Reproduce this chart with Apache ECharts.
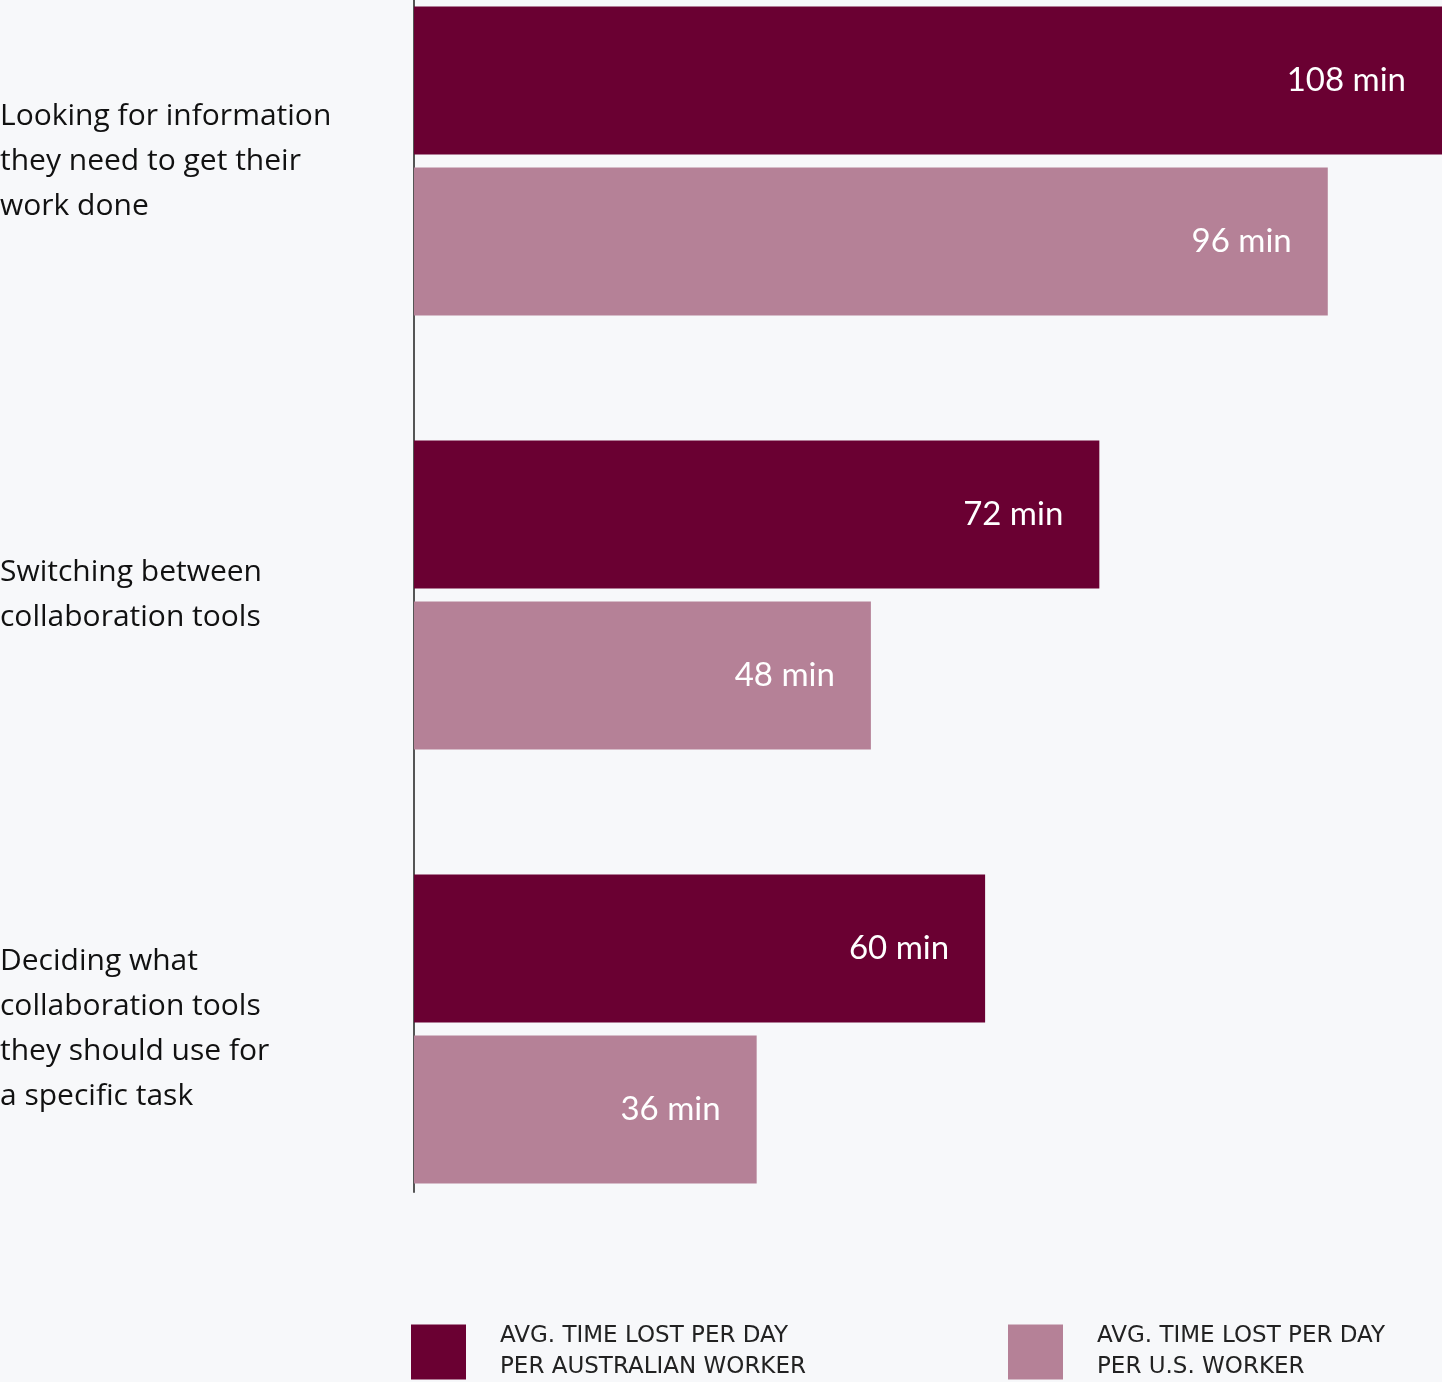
<!DOCTYPE html>
<html>
<head>
<meta charset="utf-8">
<script src="https://cdn.jsdelivr.net/npm/echarts@6/dist/echarts.min.js"></script>
<style>
html,body{margin:0;padding:0;background:#f7f8fa;}
#chart{width:1442px;height:1382px;}
</style>
</head>
<body>
<div id="chart"></div>
<script>
const categories = [
  'Looking for information\nthey need to get their\nwork done',
  'Switching between\ncollaboration tools',
  'Deciding what\ncollaboration tools\nthey should use for\na specific task'
];
const seriesNames = [
  'AVG. TIME LOST PER DAY\nPER AUSTRALIAN WORKER',
  'AVG. TIME LOST PER DAY\nPER U.S. WORKER'
];
const australia = [108, 72, 60];
const us = [96, 48, 36];

const FONT = 'Lato, "Open Sans", sans-serif';
const FONT2 = '"Open Sans", sans-serif';
const FONT3 = '"DejaVu Sans", sans-serif';
const chart = echarts.init(document.getElementById('chart'), null, {renderer: 'canvas'});
const labelCfg = {
  show: true,
  position: 'insideRight',
  distance: 36,
  color: '#ffffff',
  fontSize: 33,
  fontFamily: FONT,
  formatter: p => p.value + ' min'
};
chart.setOption({
  backgroundColor: '#f7f8fa',
  animation: false,
  grid: [
    {left: 414, right: 0, top: -56, height: 1302, containLabel: false, outerBoundsMode: 'none'},
    {left: 414, right: 0, top: 0, height: 1192, containLabel: false, outerBoundsMode: 'none'}
  ],
  xAxis: [
    {type: 'value', gridIndex: 0, min: 0, max: 108, show: false},
    {type: 'value', gridIndex: 1, min: 0, max: 108, show: false}
  ],
  yAxis: [
    {
      type: 'category', gridIndex: 0, data: categories, inverse: true,
      axisLine: {show: false}, axisTick: {show: false},
      axisLabel: {
        align: 'left', margin: 414, color: '#111111',
        fontSize: 30, lineHeight: 45, fontFamily: FONT2
      }
    },
    {
      type: 'category', gridIndex: 1, data: [],
      axisLine: {show: true, lineStyle: {color: '#555555', width: 2}},
      axisTick: {show: false}, axisLabel: {show: false}, splitLine: {show: false}
    }
  ],
  legend: [
    {
      data: [seriesNames[0]], left: 411, top: 1321, padding: 0,
      itemWidth: 55, itemHeight: 55, itemGap: 0, icon: 'rect',
      textStyle: {color: '#222222', fontSize: 23, lineHeight: 31, fontFamily: FONT3, padding: [0, 0, 0, 29]}
    },
    {
      data: [seriesNames[1]], left: 1008, top: 1321, padding: 0,
      itemWidth: 55, itemHeight: 55, itemGap: 0, icon: 'rect',
      textStyle: {color: '#222222', fontSize: 23, lineHeight: 31, fontFamily: FONT3, padding: [0, 0, 0, 29]}
    }
  ],
  series: [
    {
      name: seriesNames[0], type: 'bar', xAxisIndex: 0, yAxisIndex: 0,
      data: australia, barWidth: 148, barGap: '8.8%',
      itemStyle: {color: '#6a0032'}, label: labelCfg
    },
    {
      name: seriesNames[1], type: 'bar', xAxisIndex: 0, yAxisIndex: 0,
      data: us, barWidth: 148, barGap: '8.8%',
      itemStyle: {color: '#b58197'}, label: labelCfg
    }
  ]
});
</script>
</body>
</html>
